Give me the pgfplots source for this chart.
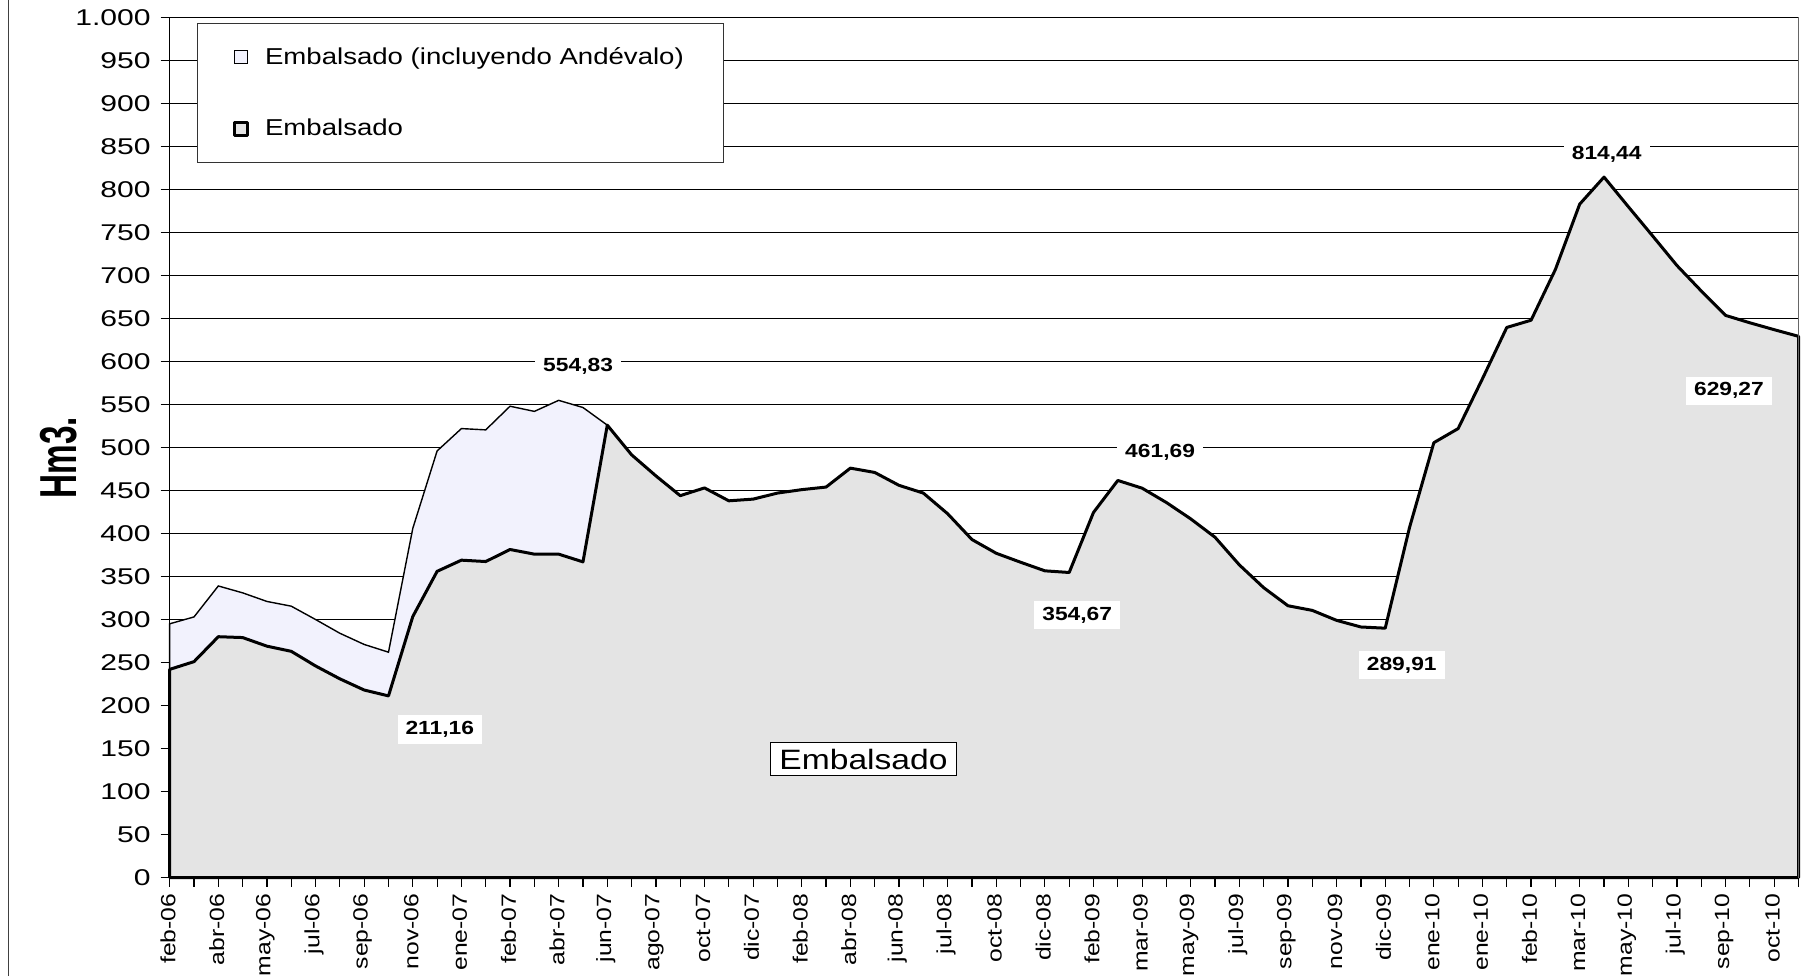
\documentclass[border=0pt]{standalone}
\usepackage{fontspec}
\setmainfont{Liberation Sans}[FakeStretch=1.2]
\newfontfamily\tickfont{Liberation Sans}[FakeStretch=1.32]
\newfontfamily\hmfont{Liberation Sans}[FakeStretch=0.64]
\usepackage{pgfplots}
\usepackage{pgfplotstable}
\pgfplotsset{compat=1.18}

\definecolor{embgray}{RGB}{228,228,228}
\definecolor{andfill}{RGB}{242,242,253}

% Embalsado (Hm3), one value per reading
\pgfplotstableread{
i v
0 242
1 251
2 280
3 279
4 269
5 263
6 246
7 231
8 218
9 211.16
10 303.5
11 356
12 369
13 367.4
14 381.4
15 376
16 376
17 367
18 526
19 491.5
20 467
21 444
22 453
23 438
24 440
25 447
26 451
27 454
28 476
29 471
30 456
31 447
32 423
33 393
34 377
35 366.6
36 356.6
37 354.67
38 424.5
39 461.69
40 452.7
41 436
42 417
43 395.6
44 363.5
45 337
46 316
47 310.6
48 299
49 291.3
50 289.91
51 407
52 505.6
53 522
54 580
55 639.6
56 648
57 707
58 783
59 814.44
60 780
61 746
62 711.6
63 682
64 653.6
65 645
66 637
67 629.27
}\embalsado

% Embalsado incluyendo Andevalo
\pgfplotstableread{
i v
0 295
1 303
2 339
3 331
4 321
5 315.5
6 300
7 284
8 271
9 262
10 406
11 496
12 522
13 520.5
14 548
15 542
16 554.83
17 546.5
18 526
}\andevalo

\begin{document}
\begin{tikzpicture}
\path[use as bounding box] (-84.85pt,-49.25pt) rectangle (820.15pt,438.75pt);
\begin{axis}[
    at={(0pt,0pt)}, anchor=south west,
    scale only axis,
    width=814.4pt, height=430pt,
    xmin=0, xmax=67, ymin=0, ymax=1000,
    clip=false,
    axis lines*=left,
    axis line style={black, line width=0.6pt},
    tick align=outside,
    major tick length=4.5pt,
    tick style={black, line width=0.6pt},
    ytick={0,50,...,1000},
    xtick={0,...,67},
    xticklabels={feb-06,,abr-06,,may-06,,jul-06,,sep-06,,nov-06,,ene-07,,feb-07,,abr-07,,jun-07,,ago-07,,oct-07,,dic-07,,feb-08,,abr-08,,jun-08,,jul-08,,oct-08,,dic-08,,feb-09,,mar-09,,may-09,,jul-09,,sep-09,,nov-09,,dic-09,,ene-10,,ene-10,,feb-10,,mar-10,,may-10,,jul-10,,sep-10,,oct-10,{}},
    xticklabel style={rotate=90, anchor=east, yshift=0.8pt, font=\fontsize{10.3}{12}\selectfont},
    yticklabel style={font=\tickfont\fontsize{11.4}{13}\selectfont, xshift=-1.5pt,
        /pgf/number format/1000 sep={.},
        /pgf/number format/assume math mode=true},
    ymajorgrids,
    grid style={black, line width=0.5pt},
    legend cell align=left,
    legend image code/.code={\draw[#1] (0pt,-3.2pt) rectangle (6.4pt,3.2pt);},
    legend style={at={(0.0166,0.994)}, anchor=north west,
        draw=black!80, line width=0.5pt, fill=white,
        font=\fontsize{11.5}{13}\selectfont,
        inner xsep=18pt, inner ysep=10pt, row sep=22pt,
        /tikz/every odd column/.append style={column sep=6pt}},
]
\addplot[draw=black, line width=0.7pt, fill=andfill] table[x=i, y=v] {\andevalo} \closedcycle;
\addlegendentry{Embalsado (incluyendo Andévalo)}
\addplot[draw=black, line width=1.5pt, line join=round, fill=embgray] table[x=i, y=v] {\embalsado} \closedcycle;
\addlegendentry{Embalsado}

\draw[black!60, line width=0.5pt] (rel axis cs:1,0) -- (rel axis cs:1,1);

\tikzset{dlab/.style={fill=white, inner xsep=4pt, inner ysep=3pt,
    font=\bfseries\fontsize{9.5}{11}\selectfont}}
\node[dlab] at (axis cs:11.11,172) {211,16};
\node[dlab] at (axis cs:16.8,594) {554,83};
\node[dlab] at (axis cs:40.74,494) {461,69};
\node[dlab] at (axis cs:37.33,305) {354,67};
\node[dlab] at (axis cs:50.68,247) {289,91};
\node[dlab] at (axis cs:59.11,841) {814,44};
\node[dlab] at (axis cs:64.14,566) {629,27};
\node[draw=black, line width=0.6pt, fill=white, inner xsep=4.5pt, inner ysep=3pt,
    font=\fontsize{14}{16}\selectfont] at (axis cs:28.54,137.8) {Embalsado};

\node[rotate=90, font=\hmfont\bfseries\fontsize{26}{28}\selectfont]
    at (rel axis cs:-0.0684,0.488) {Hm3.};
\end{axis}
\draw[black!75, line width=0.7pt] (-80.5pt,-49.25pt) -- (-80.5pt,438.75pt);
\end{tikzpicture}
\end{document}
